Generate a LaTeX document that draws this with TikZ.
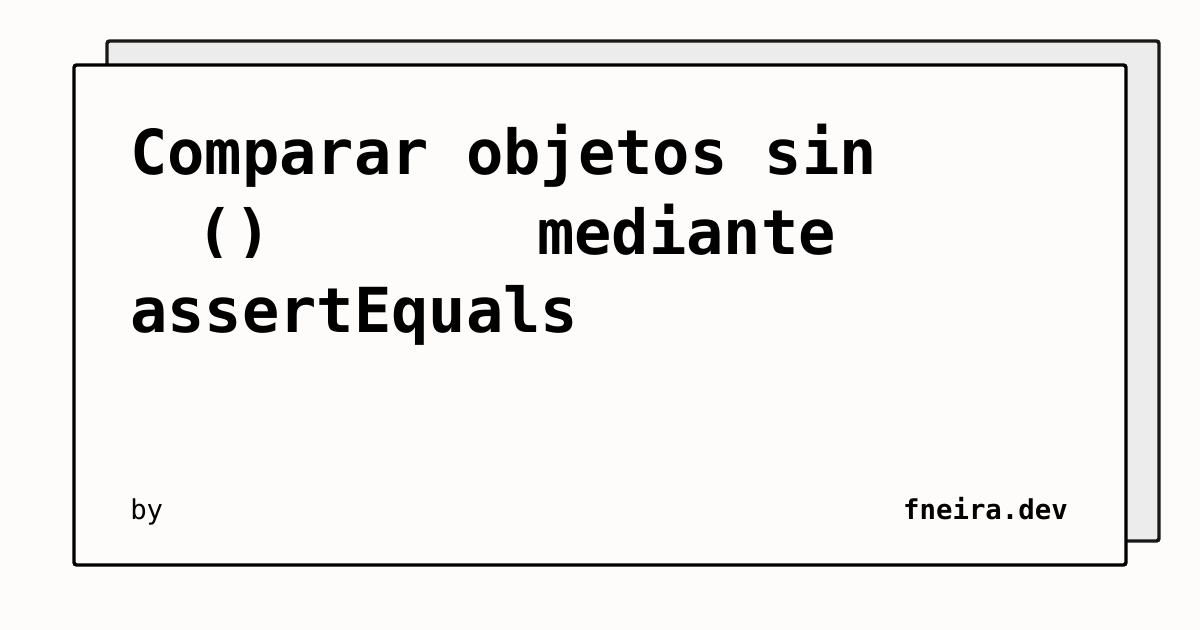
\documentclass[tikz,border=0pt]{standalone}
\usepackage{fontspec}
\setmonofont{DejaVu Sans Mono}
\usepackage{xcolor}
\definecolor{paper}{RGB}{253,252,250}
\definecolor{shade}{RGB}{236,236,236}
\definecolor{edge}{RGB}{24,24,24}
\usetikzlibrary{positioning}

\begin{document}
\begin{tikzpicture}[x=0.75pt,y=-0.75pt,
  card/.style={draw=black,line width=2.6pt,rounded corners=2pt,fill=paper},
  title/.style={anchor=base west,inner sep=0pt,font=\ttfamily\bfseries\fontsize{46.5}{60}\selectfont},
  foot/.style={inner sep=0pt,font=\ttfamily\fontsize{20.5}{24}\selectfont}]
\fill[paper] (0,0) rectangle (1200,630);
\useasboundingbox (0,0) rectangle (1200,630);
\draw[card,draw=edge,fill=shade] (107,41) rectangle (1159,541);
\draw[card] (74,65) rectangle (1126,565);
\node[title] (line1) at (130,175) {Comparar objetos sin};
\begin{scope}
\clip (120,190) rectangle (300,258);
\node[title] (parens) at (122,255) {\ \ ()};
\end{scope}
\node[title] (line2) at (537,255) {mediante};
\node[title] (line3) at (130,333) {assertEquals};
\node[foot,anchor=base west] (by) at (130,520) {by};
\node[foot,anchor=base east,font=\ttfamily\bfseries\fontsize{20.5}{24}\selectfont] (site) at (1068,520) {fneira.dev};
\end{tikzpicture}
\end{document}
